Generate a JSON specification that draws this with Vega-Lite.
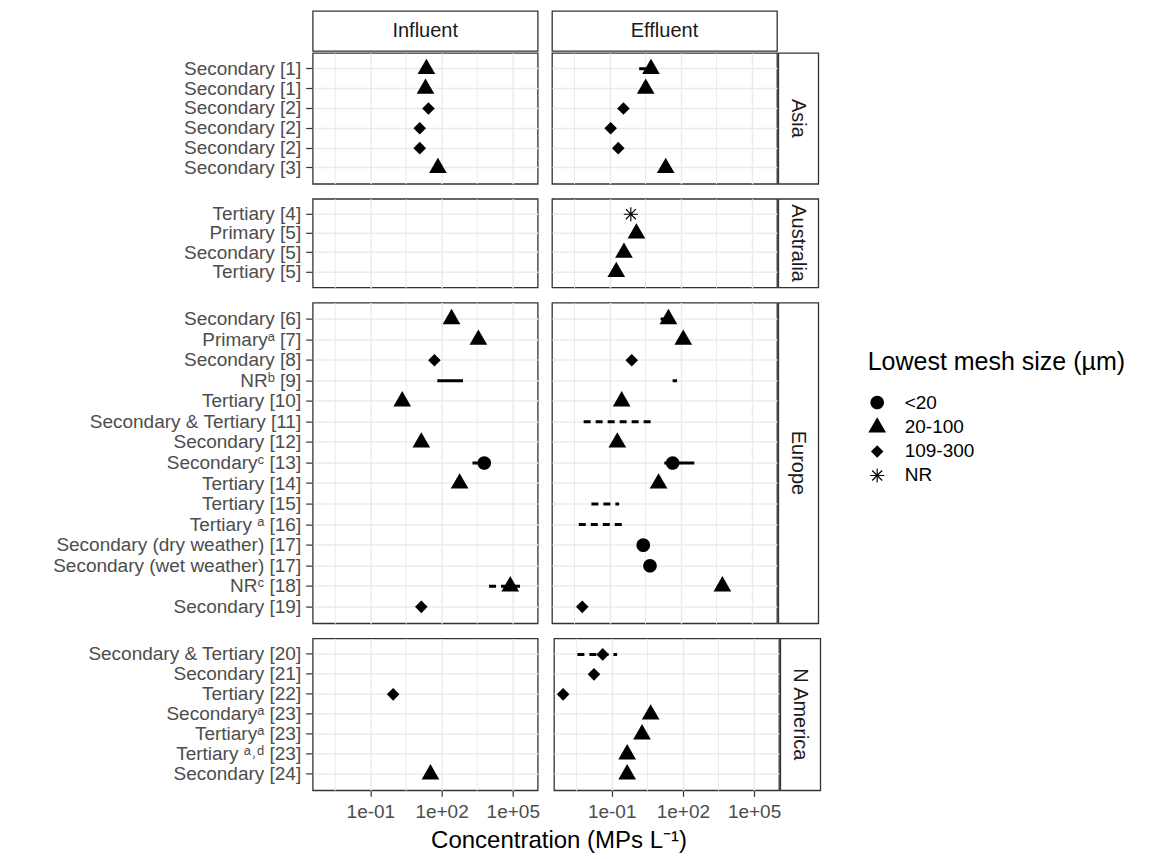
{
  "$schema": "https://vega.github.io/schema/vega-lite/v6.json",
  "padding": {"left": 21.7, "top": 10, "right": 5, "bottom": 5},
  "title": {"text": "Concentration (MPs L⁻¹)", "orient": "bottom", "anchor": "start", "frame": "bounds", "align": "center", "dx": 537, "offset": 7, "fontSize": 24, "fontWeight": "normal", "color": "black", "font": "Liberation Sans"},
  "config": {
    "font": "Liberation Sans",
    "view": {"stroke": "#333333", "strokeWidth": 1.3, "fill": "white"},
    "axis": {"labelFont": "Liberation Sans", "labelFontSize": 19, "labelColor": "#4d4d4d", "tickColor": "#333333", "tickWidth": 1.2, "gridColor": "#ebebeb", "domain": false},
    "legend": {"titleFont": "Liberation Sans", "titleFontSize": 25, "titleFontWeight": "normal", "titleColor": "black", "titleLimit": 500, "labelFont": "Liberation Sans", "labelFontSize": 19, "labelColor": "black", "symbolSize": 313, "symbolFillColor": "black", "symbolStrokeColor": "black", "symbolStrokeWidth": 0, "symbolOpacity": 1, "rowPadding": 4, "labelOffset": 18, "titlePadding": 18, "padding": 0}
  },
  "datasets": {
    "mp": [
      {"region": "Asia", "key": "Secondary [1]|a", "stage": "Influent", "mesh": "20-100", "conc": 23},
      {"region": "Asia", "key": "Secondary [1]|a", "stage": "Effluent", "mesh": "20-100", "conc": 5.5, "low": 1.75, "high": 8, "spread": "sd"},
      {"region": "Asia", "key": "Secondary [1]|b", "stage": "Influent", "mesh": "20-100", "conc": 21},
      {"region": "Asia", "key": "Secondary [1]|b", "stage": "Effluent", "mesh": "20-100", "conc": 3.3},
      {"region": "Asia", "key": "Secondary [2]|a", "stage": "Influent", "mesh": "109-300", "conc": 28},
      {"region": "Asia", "key": "Secondary [2]|a", "stage": "Effluent", "mesh": "109-300", "conc": 0.38},
      {"region": "Asia", "key": "Secondary [2]|b", "stage": "Influent", "mesh": "109-300", "conc": 12},
      {"region": "Asia", "key": "Secondary [2]|b", "stage": "Effluent", "mesh": "109-300", "conc": 0.11},
      {"region": "Asia", "key": "Secondary [2]|c", "stage": "Influent", "mesh": "109-300", "conc": 12},
      {"region": "Asia", "key": "Secondary [2]|c", "stage": "Effluent", "mesh": "109-300", "conc": 0.23},
      {"region": "Asia", "key": "Secondary [3]", "stage": "Influent", "mesh": "20-100", "conc": 70},
      {"region": "Asia", "key": "Secondary [3]", "stage": "Effluent", "mesh": "20-100", "conc": 23},
      {"region": "Australia", "key": "Tertiary [4]", "stage": "Effluent", "mesh": "NR", "conc": 0.78},
      {"region": "Australia", "key": "Primary [5]", "stage": "Effluent", "mesh": "20-100", "conc": 1.34},
      {"region": "Australia", "key": "Secondary [5]", "stage": "Effluent", "mesh": "20-100", "conc": 0.4},
      {"region": "Australia", "key": "Tertiary [5]", "stage": "Effluent", "mesh": "20-100", "conc": 0.19},
      {"region": "Europe", "key": "Secondary [6]", "stage": "Influent", "mesh": "20-100", "conc": 263},
      {"region": "Europe", "key": "Secondary [6]", "stage": "Effluent", "mesh": "20-100", "conc": 30, "low": 14, "high": 40, "spread": "sd"},
      {"region": "Europe", "key": "Primaryᵃ [7]", "stage": "Influent", "mesh": "20-100", "conc": 3550},
      {"region": "Europe", "key": "Primaryᵃ [7]", "stage": "Effluent", "mesh": "20-100", "conc": 126},
      {"region": "Europe", "key": "Secondary [8]", "stage": "Influent", "mesh": "109-300", "conc": 50},
      {"region": "Europe", "key": "Secondary [8]", "stage": "Effluent", "mesh": "109-300", "conc": 0.85},
      {"region": "Europe", "key": "NRᵇ [9]", "stage": "Influent", "low": 66, "high": 800, "spread": "sd"},
      {"region": "Europe", "key": "NRᵇ [9]", "stage": "Effluent", "low": 45, "high": 69, "spread": "sd"},
      {"region": "Europe", "key": "Tertiary [10]", "stage": "Influent", "mesh": "20-100", "conc": 2.2},
      {"region": "Europe", "key": "Tertiary [10]", "stage": "Effluent", "mesh": "20-100", "conc": 0.32},
      {"region": "Europe", "key": "Secondary & Tertiary [11]", "stage": "Effluent", "low": 0.008, "high": 7.6, "spread": "range"},
      {"region": "Europe", "key": "Secondary [12]", "stage": "Influent", "mesh": "20-100", "conc": 14},
      {"region": "Europe", "key": "Secondary [12]", "stage": "Effluent", "mesh": "20-100", "conc": 0.21},
      {"region": "Europe", "key": "Secondaryᶜ [13]", "stage": "Influent", "mesh": "<20", "conc": 6300, "low": 2000, "high": 10000, "spread": "sd"},
      {"region": "Europe", "key": "Secondaryᶜ [13]", "stage": "Effluent", "mesh": "<20", "conc": 45, "low": 20, "high": 370, "spread": "sd"},
      {"region": "Europe", "key": "Tertiary [14]", "stage": "Influent", "mesh": "20-100", "conc": 575},
      {"region": "Europe", "key": "Tertiary [14]", "stage": "Effluent", "mesh": "20-100", "conc": 11.5},
      {"region": "Europe", "key": "Tertiary [15]", "stage": "Effluent", "low": 0.017, "high": 0.25, "spread": "range"},
      {"region": "Europe", "key": "Tertiary ᵃ [16]", "stage": "Effluent", "low": 0.005, "high": 0.36, "spread": "range"},
      {"region": "Europe", "key": "Secondary (dry weather) [17]", "stage": "Effluent", "mesh": "<20", "conc": 2.6},
      {"region": "Europe", "key": "Secondary (wet weather) [17]", "stage": "Effluent", "mesh": "<20", "conc": 5.0},
      {"region": "Europe", "key": "NRᶜ [18]", "stage": "Influent", "mesh": "20-100", "conc": 78000, "low": 10000, "high": 260000, "spread": "range"},
      {"region": "Europe", "key": "NRᶜ [18]", "stage": "Effluent", "mesh": "20-100", "conc": 5600},
      {"region": "Europe", "key": "Secondary [19]", "stage": "Influent", "mesh": "109-300", "conc": 14},
      {"region": "Europe", "key": "Secondary [19]", "stage": "Effluent", "mesh": "109-300", "conc": 0.007},
      {"region": "N America", "key": "Secondary & Tertiary [20]", "stage": "Effluent", "mesh": "109-300", "conc": 0.042, "low": 0.0036, "high": 0.17, "spread": "range"},
      {"region": "N America", "key": "Secondary [21]", "stage": "Effluent", "mesh": "109-300", "conc": 0.018},
      {"region": "N America", "key": "Tertiary [22]", "stage": "Influent", "mesh": "109-300", "conc": 0.91},
      {"region": "N America", "key": "Tertiary [22]", "stage": "Effluent", "mesh": "109-300", "conc": 0.0009},
      {"region": "N America", "key": "Secondaryᵃ [23]", "stage": "Effluent", "mesh": "20-100", "conc": 4.4},
      {"region": "N America", "key": "Tertiaryᵃ [23]", "stage": "Effluent", "mesh": "20-100", "conc": 1.9},
      {"region": "N America", "key": "Tertiary ᵃ˒ᵈ [23]", "stage": "Effluent", "mesh": "20-100", "conc": 0.45},
      {"region": "N America", "key": "Secondary [24]", "stage": "Influent", "mesh": "20-100", "conc": 34},
      {"region": "N America", "key": "Secondary [24]", "stage": "Effluent", "mesh": "20-100", "conc": 0.45}
    ]
  },
  "spacing": 0,
  "vconcat": [
    {
      "spacing": 12.3,
      "hconcat": [
        {
          "width": 225, "height": 40,
          "data": {"name": "mp"},
          "transform": [{"filter": "datum.stage === 'Influent'"}, {"aggregate": [{"op": "count", "as": "n"}], "groupby": ["stage"]}],
          "mark": {"type": "text", "fontSize": 20, "color": "#1a1a1a", "baseline": "middle", "align": "center"},
          "encoding": {
            "y": {"field": "stage", "type": "nominal", "axis": {"labels": false, "ticks": false, "domain": false, "grid": false, "title": null, "minExtent": 290, "maxExtent": 290}},
            "text": {"field": "stage"}
          }
        },
        {
          "width": 225, "height": 40,
          "data": {"name": "mp"},
          "transform": [{"filter": "datum.stage === 'Effluent'"}, {"aggregate": [{"op": "count", "as": "n"}], "groupby": ["stage"]}],
          "mark": {"type": "text", "fontSize": 20, "color": "#1a1a1a", "baseline": "middle", "align": "center"},
          "encoding": {"y": {"field": "stage", "type": "nominal", "axis": null}, "text": {"field": "stage"}}
        }
      ]
    },
    {
      "spacing": 12.8,
      "vconcat": [
        {
          "spacing": 12.3,
          "hconcat": [
            {
              "width": 225, "height": 130.8,
              "data": {"name": "mp"},
              "transform": [{"filter": "datum.region === 'Asia' && datum.stage === 'Influent'"}],
              "encoding": {"y": {"field": "key", "type": "nominal", "scale": {"domain": ["Secondary [1]|a", "Secondary [1]|b", "Secondary [2]|a", "Secondary [2]|b", "Secondary [2]|c", "Secondary [3]"], "padding": 0.6}, "axis": {"title": null, "labelExpr": "split(datum.value, '|')[0]", "ticks": true, "tickSize": 7, "labelPadding": 5, "labelLimit": 400, "labelOverlap": false, "labelBound": false, "grid": true, "gridWidth": 1.5, "minExtent": 290, "maxExtent": 290}}},
              "layer": [
                {"transform": [{"filter": "isValid(datum.low)"}], "mark": {"type": "rule", "color": "black", "strokeWidth": 3, "strokeCap": "butt"}, "encoding": {"x": {"field": "low", "type": "quantitative", "scale": {"type": "log", "domain": [0.0003715, 1122000], "nice": false}, "axis": {"values": [0.0031623, 0.1, 3.1623, 100, 3162.3, 100000], "labels": false, "ticks": false, "title": null, "grid": true, "gridWidth": {"condition": {"test": "datum.value < 0.05 || (datum.value > 1 && datum.value < 50) || (datum.value > 500 && datum.value < 50000)", "value": 1}, "value": 1.5}}}, "x2": {"field": "high"}, "strokeDash": {"field": "spread", "type": "nominal", "scale": {"domain": ["sd", "range"], "range": [[1, 0], [7, 5]]}, "legend": null}}},
                {"transform": [{"filter": "isValid(datum.conc)"}], "mark": {"type": "point", "filled": true, "fill": "black", "strokeWidth": 0, "size": 313, "opacity": 1}, "encoding": {"x": {"field": "conc", "type": "quantitative", "scale": {"type": "log", "domain": [0.0003715, 1122000], "nice": false}, "axis": {"values": [0.0031623, 0.1, 3.1623, 100, 3162.3, 100000], "labels": false, "ticks": false, "title": null, "grid": true, "gridWidth": {"condition": {"test": "datum.value < 0.05 || (datum.value > 1 && datum.value < 50) || (datum.value > 500 && datum.value < 50000)", "value": 1}, "value": 1.5}}}, "shape": {"field": "mesh", "type": "nominal", "scale": {"domain": ["<20", "20-100", "109-300", "NR"], "range": ["M0.77,0A0.77,0.77,0,1,1,-0.77,0A0.77,0.77,0,1,1,0.77,0Z", "M0,-1.155L1,0.577L-1,0.577Z", "M0,-0.71L0.71,0L0,0.71L-0.71,0Z", "M-0.8,-0.065L0.8,-0.065L0.8,0.065L-0.8,0.065ZM-0.065,-0.8L0.065,-0.8L0.065,0.8L-0.065,0.8ZM-0.52,-0.612L0.612,0.52L0.52,0.612L-0.612,-0.52ZM-0.612,0.52L0.52,-0.612L0.612,-0.52L-0.52,0.612Z"]}, "legend": {"title": "Lowest mesh size (µm)", "orient": "none", "legendX": 555, "legendY": 339, "symbolFillColor": "black", "symbolStrokeWidth": 0, "symbolOpacity": 1}}}}
              ]
            },
            {
              "spacing": 1.3, "bounds": "flush",
              "hconcat": [
                {
                  "width": 225, "height": 130.8,
                  "data": {"name": "mp"},
                  "transform": [{"filter": "datum.region === 'Asia' && datum.stage === 'Effluent'"}],
                  "encoding": {"y": {"field": "key", "type": "nominal", "scale": {"domain": ["Secondary [1]|a", "Secondary [1]|b", "Secondary [2]|a", "Secondary [2]|b", "Secondary [2]|c", "Secondary [3]"], "padding": 0.6}, "axis": {"title": null, "labels": false, "ticks": false, "grid": true, "gridWidth": 1.5}}},
                  "layer": [
                    {"transform": [{"filter": "isValid(datum.low)"}], "mark": {"type": "rule", "color": "black", "strokeWidth": 3, "strokeCap": "butt"}, "encoding": {"x": {"field": "low", "type": "quantitative", "scale": {"type": "log", "domain": [0.0003715, 1122000], "nice": false}, "axis": {"values": [0.0031623, 0.1, 3.1623, 100, 3162.3, 100000], "labels": false, "ticks": false, "title": null, "grid": true, "gridWidth": {"condition": {"test": "datum.value < 0.05 || (datum.value > 1 && datum.value < 50) || (datum.value > 500 && datum.value < 50000)", "value": 1}, "value": 1.5}}}, "x2": {"field": "high"}, "strokeDash": {"field": "spread", "type": "nominal", "scale": {"domain": ["sd", "range"], "range": [[1, 0], [7, 5]]}, "legend": null}}},
                    {"transform": [{"filter": "isValid(datum.conc)"}], "mark": {"type": "point", "filled": true, "fill": "black", "strokeWidth": 0, "size": 313, "opacity": 1}, "encoding": {"x": {"field": "conc", "type": "quantitative", "scale": {"type": "log", "domain": [0.0003715, 1122000], "nice": false}, "axis": {"values": [0.0031623, 0.1, 3.1623, 100, 3162.3, 100000], "labels": false, "ticks": false, "title": null, "grid": true, "gridWidth": {"condition": {"test": "datum.value < 0.05 || (datum.value > 1 && datum.value < 50) || (datum.value > 500 && datum.value < 50000)", "value": 1}, "value": 1.5}}}, "shape": {"field": "mesh", "type": "nominal", "scale": {"domain": ["<20", "20-100", "109-300", "NR"], "range": ["M0.77,0A0.77,0.77,0,1,1,-0.77,0A0.77,0.77,0,1,1,0.77,0Z", "M0,-1.155L1,0.577L-1,0.577Z", "M0,-0.71L0.71,0L0,0.71L-0.71,0Z", "M-0.8,-0.065L0.8,-0.065L0.8,0.065L-0.8,0.065ZM-0.065,-0.8L0.065,-0.8L0.065,0.8L-0.065,0.8ZM-0.52,-0.612L0.612,0.52L0.52,0.612L-0.612,-0.52ZM-0.612,0.52L0.52,-0.612L0.612,-0.52L-0.52,0.612Z"]}, "legend": {"title": "Lowest mesh size (µm)", "orient": "none", "legendX": 555, "legendY": 339, "symbolFillColor": "black", "symbolStrokeWidth": 0, "symbolOpacity": 1}}}}
                  ]
                },
                {
                  "width": 40, "height": 130.8,
                  "data": {"name": "mp"},
                  "transform": [{"filter": "datum.region === 'Asia'"}, {"aggregate": [{"op": "count", "as": "n"}], "groupby": ["region"]}],
                  "mark": {"type": "text", "angle": 90, "fontSize": 20, "color": "#1a1a1a", "baseline": "middle", "align": "center"},
                  "encoding": {"y": {"field": "region", "type": "nominal", "axis": null}, "text": {"field": "region"}}
                }
              ]
            }
          ]
        },
        {
          "spacing": 12.3,
          "hconcat": [
            {
              "width": 225, "height": 88.6,
              "data": {"name": "mp"},
              "transform": [{"filter": "datum.region === 'Australia' && datum.stage === 'Influent'"}],
              "encoding": {"y": {"field": "key", "type": "nominal", "scale": {"domain": ["Tertiary [4]", "Primary [5]", "Secondary [5]", "Tertiary [5]"], "padding": 0.6}, "axis": {"title": null, "labelExpr": "split(datum.value, '|')[0]", "ticks": true, "tickSize": 7, "labelPadding": 5, "labelLimit": 400, "labelOverlap": false, "labelBound": false, "grid": true, "gridWidth": 1.5, "minExtent": 290, "maxExtent": 290}}},
              "layer": [
                {"transform": [{"filter": "isValid(datum.low)"}], "mark": {"type": "rule", "color": "black", "strokeWidth": 3, "strokeCap": "butt"}, "encoding": {"x": {"field": "low", "type": "quantitative", "scale": {"type": "log", "domain": [0.0003715, 1122000], "nice": false}, "axis": {"values": [0.0031623, 0.1, 3.1623, 100, 3162.3, 100000], "labels": false, "ticks": false, "title": null, "grid": true, "gridWidth": {"condition": {"test": "datum.value < 0.05 || (datum.value > 1 && datum.value < 50) || (datum.value > 500 && datum.value < 50000)", "value": 1}, "value": 1.5}}}, "x2": {"field": "high"}, "strokeDash": {"field": "spread", "type": "nominal", "scale": {"domain": ["sd", "range"], "range": [[1, 0], [7, 5]]}, "legend": null}}},
                {"transform": [{"filter": "isValid(datum.conc)"}], "mark": {"type": "point", "filled": true, "fill": "black", "strokeWidth": 0, "size": 313, "opacity": 1}, "encoding": {"x": {"field": "conc", "type": "quantitative", "scale": {"type": "log", "domain": [0.0003715, 1122000], "nice": false}, "axis": {"values": [0.0031623, 0.1, 3.1623, 100, 3162.3, 100000], "labels": false, "ticks": false, "title": null, "grid": true, "gridWidth": {"condition": {"test": "datum.value < 0.05 || (datum.value > 1 && datum.value < 50) || (datum.value > 500 && datum.value < 50000)", "value": 1}, "value": 1.5}}}, "shape": {"field": "mesh", "type": "nominal", "scale": {"domain": ["<20", "20-100", "109-300", "NR"], "range": ["M0.77,0A0.77,0.77,0,1,1,-0.77,0A0.77,0.77,0,1,1,0.77,0Z", "M0,-1.155L1,0.577L-1,0.577Z", "M0,-0.71L0.71,0L0,0.71L-0.71,0Z", "M-0.8,-0.065L0.8,-0.065L0.8,0.065L-0.8,0.065ZM-0.065,-0.8L0.065,-0.8L0.065,0.8L-0.065,0.8ZM-0.52,-0.612L0.612,0.52L0.52,0.612L-0.612,-0.52ZM-0.612,0.52L0.52,-0.612L0.612,-0.52L-0.52,0.612Z"]}, "legend": {"title": "Lowest mesh size (µm)", "orient": "none", "legendX": 555, "legendY": 339, "symbolFillColor": "black", "symbolStrokeWidth": 0, "symbolOpacity": 1}}}}
              ]
            },
            {
              "spacing": 1.3, "bounds": "flush",
              "hconcat": [
                {
                  "width": 225, "height": 88.6,
                  "data": {"name": "mp"},
                  "transform": [{"filter": "datum.region === 'Australia' && datum.stage === 'Effluent'"}],
                  "encoding": {"y": {"field": "key", "type": "nominal", "scale": {"domain": ["Tertiary [4]", "Primary [5]", "Secondary [5]", "Tertiary [5]"], "padding": 0.6}, "axis": {"title": null, "labels": false, "ticks": false, "grid": true, "gridWidth": 1.5}}},
                  "layer": [
                    {"transform": [{"filter": "isValid(datum.low)"}], "mark": {"type": "rule", "color": "black", "strokeWidth": 3, "strokeCap": "butt"}, "encoding": {"x": {"field": "low", "type": "quantitative", "scale": {"type": "log", "domain": [0.0003715, 1122000], "nice": false}, "axis": {"values": [0.0031623, 0.1, 3.1623, 100, 3162.3, 100000], "labels": false, "ticks": false, "title": null, "grid": true, "gridWidth": {"condition": {"test": "datum.value < 0.05 || (datum.value > 1 && datum.value < 50) || (datum.value > 500 && datum.value < 50000)", "value": 1}, "value": 1.5}}}, "x2": {"field": "high"}, "strokeDash": {"field": "spread", "type": "nominal", "scale": {"domain": ["sd", "range"], "range": [[1, 0], [7, 5]]}, "legend": null}}},
                    {"transform": [{"filter": "isValid(datum.conc)"}], "mark": {"type": "point", "filled": true, "fill": "black", "strokeWidth": 0, "size": 313, "opacity": 1}, "encoding": {"x": {"field": "conc", "type": "quantitative", "scale": {"type": "log", "domain": [0.0003715, 1122000], "nice": false}, "axis": {"values": [0.0031623, 0.1, 3.1623, 100, 3162.3, 100000], "labels": false, "ticks": false, "title": null, "grid": true, "gridWidth": {"condition": {"test": "datum.value < 0.05 || (datum.value > 1 && datum.value < 50) || (datum.value > 500 && datum.value < 50000)", "value": 1}, "value": 1.5}}}, "shape": {"field": "mesh", "type": "nominal", "scale": {"domain": ["<20", "20-100", "109-300", "NR"], "range": ["M0.77,0A0.77,0.77,0,1,1,-0.77,0A0.77,0.77,0,1,1,0.77,0Z", "M0,-1.155L1,0.577L-1,0.577Z", "M0,-0.71L0.71,0L0,0.71L-0.71,0Z", "M-0.8,-0.065L0.8,-0.065L0.8,0.065L-0.8,0.065ZM-0.065,-0.8L0.065,-0.8L0.065,0.8L-0.065,0.8ZM-0.52,-0.612L0.612,0.52L0.52,0.612L-0.612,-0.52ZM-0.612,0.52L0.52,-0.612L0.612,-0.52L-0.52,0.612Z"]}, "legend": {"title": "Lowest mesh size (µm)", "orient": "none", "legendX": 555, "legendY": 339, "symbolFillColor": "black", "symbolStrokeWidth": 0, "symbolOpacity": 1}}}}
                  ]
                },
                {
                  "width": 40, "height": 88.6,
                  "data": {"name": "mp"},
                  "transform": [{"filter": "datum.region === 'Australia'"}, {"aggregate": [{"op": "count", "as": "n"}], "groupby": ["region"]}],
                  "mark": {"type": "text", "angle": 90, "fontSize": 20, "color": "#1a1a1a", "baseline": "middle", "align": "center"},
                  "encoding": {"y": {"field": "region", "type": "nominal", "axis": null}, "text": {"field": "region"}}
                }
              ]
            }
          ]
        },
        {
          "spacing": 12.3,
          "hconcat": [
            {
              "width": 225, "height": 320.7,
              "data": {"name": "mp"},
              "transform": [{"filter": "datum.region === 'Europe' && datum.stage === 'Influent'"}],
              "encoding": {"y": {"field": "key", "type": "nominal", "scale": {"domain": ["Secondary [6]", "Primaryᵃ [7]", "Secondary [8]", "NRᵇ [9]", "Tertiary [10]", "Secondary & Tertiary [11]", "Secondary [12]", "Secondaryᶜ [13]", "Tertiary [14]", "Tertiary [15]", "Tertiary ᵃ [16]", "Secondary (dry weather) [17]", "Secondary (wet weather) [17]", "NRᶜ [18]", "Secondary [19]"], "padding": 0.6}, "axis": {"title": null, "labelExpr": "split(datum.value, '|')[0]", "ticks": true, "tickSize": 7, "labelPadding": 5, "labelLimit": 400, "labelOverlap": false, "labelBound": false, "grid": true, "gridWidth": 1.5, "minExtent": 290, "maxExtent": 290}}},
              "layer": [
                {"transform": [{"filter": "isValid(datum.low)"}], "mark": {"type": "rule", "color": "black", "strokeWidth": 3, "strokeCap": "butt"}, "encoding": {"x": {"field": "low", "type": "quantitative", "scale": {"type": "log", "domain": [0.0003715, 1122000], "nice": false}, "axis": {"values": [0.0031623, 0.1, 3.1623, 100, 3162.3, 100000], "labels": false, "ticks": false, "title": null, "grid": true, "gridWidth": {"condition": {"test": "datum.value < 0.05 || (datum.value > 1 && datum.value < 50) || (datum.value > 500 && datum.value < 50000)", "value": 1}, "value": 1.5}}}, "x2": {"field": "high"}, "strokeDash": {"field": "spread", "type": "nominal", "scale": {"domain": ["sd", "range"], "range": [[1, 0], [7, 5]]}, "legend": null}}},
                {"transform": [{"filter": "isValid(datum.conc)"}], "mark": {"type": "point", "filled": true, "fill": "black", "strokeWidth": 0, "size": 313, "opacity": 1}, "encoding": {"x": {"field": "conc", "type": "quantitative", "scale": {"type": "log", "domain": [0.0003715, 1122000], "nice": false}, "axis": {"values": [0.0031623, 0.1, 3.1623, 100, 3162.3, 100000], "labels": false, "ticks": false, "title": null, "grid": true, "gridWidth": {"condition": {"test": "datum.value < 0.05 || (datum.value > 1 && datum.value < 50) || (datum.value > 500 && datum.value < 50000)", "value": 1}, "value": 1.5}}}, "shape": {"field": "mesh", "type": "nominal", "scale": {"domain": ["<20", "20-100", "109-300", "NR"], "range": ["M0.77,0A0.77,0.77,0,1,1,-0.77,0A0.77,0.77,0,1,1,0.77,0Z", "M0,-1.155L1,0.577L-1,0.577Z", "M0,-0.71L0.71,0L0,0.71L-0.71,0Z", "M-0.8,-0.065L0.8,-0.065L0.8,0.065L-0.8,0.065ZM-0.065,-0.8L0.065,-0.8L0.065,0.8L-0.065,0.8ZM-0.52,-0.612L0.612,0.52L0.52,0.612L-0.612,-0.52ZM-0.612,0.52L0.52,-0.612L0.612,-0.52L-0.52,0.612Z"]}, "legend": {"title": "Lowest mesh size (µm)", "orient": "none", "legendX": 555, "legendY": 339, "symbolFillColor": "black", "symbolStrokeWidth": 0, "symbolOpacity": 1}}}}
              ]
            },
            {
              "spacing": 1.3, "bounds": "flush",
              "hconcat": [
                {
                  "width": 225, "height": 320.7,
                  "data": {"name": "mp"},
                  "transform": [{"filter": "datum.region === 'Europe' && datum.stage === 'Effluent'"}],
                  "encoding": {"y": {"field": "key", "type": "nominal", "scale": {"domain": ["Secondary [6]", "Primaryᵃ [7]", "Secondary [8]", "NRᵇ [9]", "Tertiary [10]", "Secondary & Tertiary [11]", "Secondary [12]", "Secondaryᶜ [13]", "Tertiary [14]", "Tertiary [15]", "Tertiary ᵃ [16]", "Secondary (dry weather) [17]", "Secondary (wet weather) [17]", "NRᶜ [18]", "Secondary [19]"], "padding": 0.6}, "axis": {"title": null, "labels": false, "ticks": false, "grid": true, "gridWidth": 1.5}}},
                  "layer": [
                    {"transform": [{"filter": "isValid(datum.low)"}], "mark": {"type": "rule", "color": "black", "strokeWidth": 3, "strokeCap": "butt"}, "encoding": {"x": {"field": "low", "type": "quantitative", "scale": {"type": "log", "domain": [0.0003715, 1122000], "nice": false}, "axis": {"values": [0.0031623, 0.1, 3.1623, 100, 3162.3, 100000], "labels": false, "ticks": false, "title": null, "grid": true, "gridWidth": {"condition": {"test": "datum.value < 0.05 || (datum.value > 1 && datum.value < 50) || (datum.value > 500 && datum.value < 50000)", "value": 1}, "value": 1.5}}}, "x2": {"field": "high"}, "strokeDash": {"field": "spread", "type": "nominal", "scale": {"domain": ["sd", "range"], "range": [[1, 0], [7, 5]]}, "legend": null}}},
                    {"transform": [{"filter": "isValid(datum.conc)"}], "mark": {"type": "point", "filled": true, "fill": "black", "strokeWidth": 0, "size": 313, "opacity": 1}, "encoding": {"x": {"field": "conc", "type": "quantitative", "scale": {"type": "log", "domain": [0.0003715, 1122000], "nice": false}, "axis": {"values": [0.0031623, 0.1, 3.1623, 100, 3162.3, 100000], "labels": false, "ticks": false, "title": null, "grid": true, "gridWidth": {"condition": {"test": "datum.value < 0.05 || (datum.value > 1 && datum.value < 50) || (datum.value > 500 && datum.value < 50000)", "value": 1}, "value": 1.5}}}, "shape": {"field": "mesh", "type": "nominal", "scale": {"domain": ["<20", "20-100", "109-300", "NR"], "range": ["M0.77,0A0.77,0.77,0,1,1,-0.77,0A0.77,0.77,0,1,1,0.77,0Z", "M0,-1.155L1,0.577L-1,0.577Z", "M0,-0.71L0.71,0L0,0.71L-0.71,0Z", "M-0.8,-0.065L0.8,-0.065L0.8,0.065L-0.8,0.065ZM-0.065,-0.8L0.065,-0.8L0.065,0.8L-0.065,0.8ZM-0.52,-0.612L0.612,0.52L0.52,0.612L-0.612,-0.52ZM-0.612,0.52L0.52,-0.612L0.612,-0.52L-0.52,0.612Z"]}, "legend": {"title": "Lowest mesh size (µm)", "orient": "none", "legendX": 555, "legendY": 339, "symbolFillColor": "black", "symbolStrokeWidth": 0, "symbolOpacity": 1}}}}
                  ]
                },
                {
                  "width": 40, "height": 320.7,
                  "data": {"name": "mp"},
                  "transform": [{"filter": "datum.region === 'Europe'"}, {"aggregate": [{"op": "count", "as": "n"}], "groupby": ["region"]}],
                  "mark": {"type": "text", "angle": 90, "fontSize": 20, "color": "#1a1a1a", "baseline": "middle", "align": "center"},
                  "encoding": {"y": {"field": "region", "type": "nominal", "axis": null}, "text": {"field": "region"}}
                }
              ]
            }
          ]
        },
        {
          "spacing": 12.3,
          "hconcat": [
            {
              "width": 225, "height": 151.9,
              "data": {"name": "mp"},
              "transform": [{"filter": "datum.region === 'N America' && datum.stage === 'Influent'"}],
              "encoding": {"y": {"field": "key", "type": "nominal", "scale": {"domain": ["Secondary & Tertiary [20]", "Secondary [21]", "Tertiary [22]", "Secondaryᵃ [23]", "Tertiaryᵃ [23]", "Tertiary ᵃ˒ᵈ [23]", "Secondary [24]"], "padding": 0.6}, "axis": {"title": null, "labelExpr": "split(datum.value, '|')[0]", "ticks": true, "tickSize": 7, "labelPadding": 5, "labelLimit": 400, "labelOverlap": false, "labelBound": false, "grid": true, "gridWidth": 1.5, "minExtent": 290, "maxExtent": 290}}},
              "layer": [
                {"transform": [{"filter": "isValid(datum.low)"}], "mark": {"type": "rule", "color": "black", "strokeWidth": 3, "strokeCap": "butt"}, "encoding": {"x": {"field": "low", "type": "quantitative", "scale": {"type": "log", "domain": [0.0003715, 1122000], "nice": false}, "axis": {"values": [0.0031623, 0.1, 3.1623, 100, 3162.3, 100000], "labels": true, "ticks": true, "title": null, "grid": true, "tickSize": 6, "labelPadding": 6, "labelFlush": false, "labelOverlap": false, "labelExpr": "(datum.value < 0.05 || (datum.value > 1 && datum.value < 50) || (datum.value > 500 && datum.value < 50000)) ? '' : replace(replace(format(datum.value, '.0e'), 'e-', 'e-0'), 'e+', 'e+0')", "tickOpacity": {"condition": {"test": "datum.value < 0.05 || (datum.value > 1 && datum.value < 50) || (datum.value > 500 && datum.value < 50000)", "value": 0}, "value": 1}, "gridWidth": {"condition": {"test": "datum.value < 0.05 || (datum.value > 1 && datum.value < 50) || (datum.value > 500 && datum.value < 50000)", "value": 1}, "value": 1.5}}}, "x2": {"field": "high"}, "strokeDash": {"field": "spread", "type": "nominal", "scale": {"domain": ["sd", "range"], "range": [[1, 0], [7, 5]]}, "legend": null}}},
                {"transform": [{"filter": "isValid(datum.conc)"}], "mark": {"type": "point", "filled": true, "fill": "black", "strokeWidth": 0, "size": 313, "opacity": 1}, "encoding": {"x": {"field": "conc", "type": "quantitative", "scale": {"type": "log", "domain": [0.0003715, 1122000], "nice": false}, "axis": {"values": [0.0031623, 0.1, 3.1623, 100, 3162.3, 100000], "labels": true, "ticks": true, "title": null, "grid": true, "tickSize": 6, "labelPadding": 6, "labelFlush": false, "labelOverlap": false, "labelExpr": "(datum.value < 0.05 || (datum.value > 1 && datum.value < 50) || (datum.value > 500 && datum.value < 50000)) ? '' : replace(replace(format(datum.value, '.0e'), 'e-', 'e-0'), 'e+', 'e+0')", "tickOpacity": {"condition": {"test": "datum.value < 0.05 || (datum.value > 1 && datum.value < 50) || (datum.value > 500 && datum.value < 50000)", "value": 0}, "value": 1}, "gridWidth": {"condition": {"test": "datum.value < 0.05 || (datum.value > 1 && datum.value < 50) || (datum.value > 500 && datum.value < 50000)", "value": 1}, "value": 1.5}}}, "shape": {"field": "mesh", "type": "nominal", "scale": {"domain": ["<20", "20-100", "109-300", "NR"], "range": ["M0.77,0A0.77,0.77,0,1,1,-0.77,0A0.77,0.77,0,1,1,0.77,0Z", "M0,-1.155L1,0.577L-1,0.577Z", "M0,-0.71L0.71,0L0,0.71L-0.71,0Z", "M-0.8,-0.065L0.8,-0.065L0.8,0.065L-0.8,0.065ZM-0.065,-0.8L0.065,-0.8L0.065,0.8L-0.065,0.8ZM-0.52,-0.612L0.612,0.52L0.52,0.612L-0.612,-0.52ZM-0.612,0.52L0.52,-0.612L0.612,-0.52L-0.52,0.612Z"]}, "legend": {"title": "Lowest mesh size (µm)", "orient": "none", "legendX": 555, "legendY": 339, "symbolFillColor": "black", "symbolStrokeWidth": 0, "symbolOpacity": 1}}}}
              ]
            },
            {
              "spacing": 1.3, "bounds": "flush",
              "hconcat": [
                {
                  "width": 225, "height": 151.9,
                  "data": {"name": "mp"},
                  "transform": [{"filter": "datum.region === 'N America' && datum.stage === 'Effluent'"}],
                  "encoding": {"y": {"field": "key", "type": "nominal", "scale": {"domain": ["Secondary & Tertiary [20]", "Secondary [21]", "Tertiary [22]", "Secondaryᵃ [23]", "Tertiaryᵃ [23]", "Tertiary ᵃ˒ᵈ [23]", "Secondary [24]"], "padding": 0.6}, "axis": {"title": null, "labels": false, "ticks": false, "grid": true, "gridWidth": 1.5}}},
                  "layer": [
                    {"transform": [{"filter": "isValid(datum.low)"}], "mark": {"type": "rule", "color": "black", "strokeWidth": 3, "strokeCap": "butt"}, "encoding": {"x": {"field": "low", "type": "quantitative", "scale": {"type": "log", "domain": [0.0003715, 1122000], "nice": false}, "axis": {"values": [0.0031623, 0.1, 3.1623, 100, 3162.3, 100000], "labels": true, "ticks": true, "title": null, "grid": true, "tickSize": 6, "labelPadding": 6, "labelFlush": false, "labelOverlap": false, "labelExpr": "(datum.value < 0.05 || (datum.value > 1 && datum.value < 50) || (datum.value > 500 && datum.value < 50000)) ? '' : replace(replace(format(datum.value, '.0e'), 'e-', 'e-0'), 'e+', 'e+0')", "tickOpacity": {"condition": {"test": "datum.value < 0.05 || (datum.value > 1 && datum.value < 50) || (datum.value > 500 && datum.value < 50000)", "value": 0}, "value": 1}, "gridWidth": {"condition": {"test": "datum.value < 0.05 || (datum.value > 1 && datum.value < 50) || (datum.value > 500 && datum.value < 50000)", "value": 1}, "value": 1.5}}}, "x2": {"field": "high"}, "strokeDash": {"field": "spread", "type": "nominal", "scale": {"domain": ["sd", "range"], "range": [[1, 0], [7, 5]]}, "legend": null}}},
                    {"transform": [{"filter": "isValid(datum.conc)"}], "mark": {"type": "point", "filled": true, "fill": "black", "strokeWidth": 0, "size": 313, "opacity": 1}, "encoding": {"x": {"field": "conc", "type": "quantitative", "scale": {"type": "log", "domain": [0.0003715, 1122000], "nice": false}, "axis": {"values": [0.0031623, 0.1, 3.1623, 100, 3162.3, 100000], "labels": true, "ticks": true, "title": null, "grid": true, "tickSize": 6, "labelPadding": 6, "labelFlush": false, "labelOverlap": false, "labelExpr": "(datum.value < 0.05 || (datum.value > 1 && datum.value < 50) || (datum.value > 500 && datum.value < 50000)) ? '' : replace(replace(format(datum.value, '.0e'), 'e-', 'e-0'), 'e+', 'e+0')", "tickOpacity": {"condition": {"test": "datum.value < 0.05 || (datum.value > 1 && datum.value < 50) || (datum.value > 500 && datum.value < 50000)", "value": 0}, "value": 1}, "gridWidth": {"condition": {"test": "datum.value < 0.05 || (datum.value > 1 && datum.value < 50) || (datum.value > 500 && datum.value < 50000)", "value": 1}, "value": 1.5}}}, "shape": {"field": "mesh", "type": "nominal", "scale": {"domain": ["<20", "20-100", "109-300", "NR"], "range": ["M0.77,0A0.77,0.77,0,1,1,-0.77,0A0.77,0.77,0,1,1,0.77,0Z", "M0,-1.155L1,0.577L-1,0.577Z", "M0,-0.71L0.71,0L0,0.71L-0.71,0Z", "M-0.8,-0.065L0.8,-0.065L0.8,0.065L-0.8,0.065ZM-0.065,-0.8L0.065,-0.8L0.065,0.8L-0.065,0.8ZM-0.52,-0.612L0.612,0.52L0.52,0.612L-0.612,-0.52ZM-0.612,0.52L0.52,-0.612L0.612,-0.52L-0.52,0.612Z"]}, "legend": {"title": "Lowest mesh size (µm)", "orient": "none", "legendX": 555, "legendY": 339, "symbolFillColor": "black", "symbolStrokeWidth": 0, "symbolOpacity": 1}}}}
                  ]
                },
                {
                  "width": 40, "height": 151.9,
                  "data": {"name": "mp"},
                  "transform": [{"filter": "datum.region === 'N America'"}, {"aggregate": [{"op": "count", "as": "n"}], "groupby": ["region"]}],
                  "mark": {"type": "text", "angle": 90, "fontSize": 20, "color": "#1a1a1a", "baseline": "middle", "align": "center"},
                  "encoding": {"y": {"field": "region", "type": "nominal", "axis": null}, "text": {"field": "region"}}
                }
              ]
            }
          ]
        }
      ]
    }
  ]
}
